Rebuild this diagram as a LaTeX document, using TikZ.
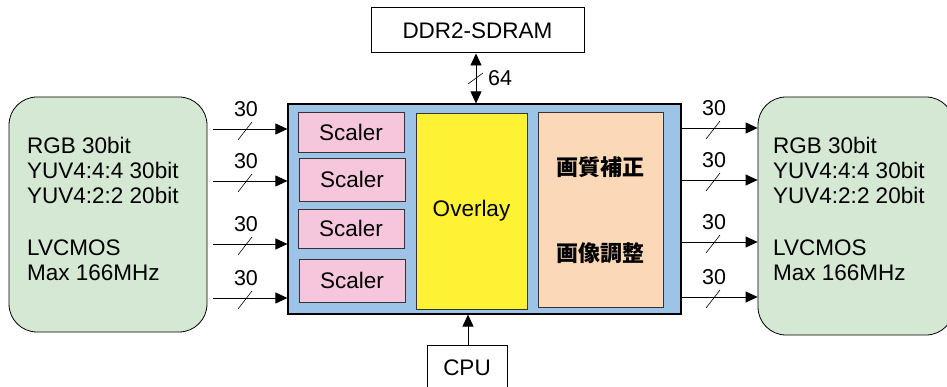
\documentclass[tikz,border=0pt]{standalone}
\usepackage{fontspec}
\setmainfont{Liberation Sans}
\newfontfamily\cjk{Noto Sans CJK JP}
\usetikzlibrary{arrows.meta}
\definecolor{greenfill}{RGB}{213,232,212}
\definecolor{bluefill}{RGB}{157,195,230}
\definecolor{pinkfill}{RGB}{246,198,221}
\definecolor{yellowfill}{RGB}{255,241,51}
\definecolor{peachfill}{RGB}{251,216,183}
\begin{document}
\begin{tikzpicture}[x=1pt,y=-1pt,
  txt/.style={font=\fontsize{22.5}{26}\selectfont, inner sep=0pt, anchor=base west},
  io/.style={draw=black, line width=0.8pt, fill=greenfill, rounded corners=28pt},
  plain/.style={draw=black, line width=1pt, fill=white},
  scalerbox/.style={draw=black!80, line width=0.8pt, fill=pinkfill, font=\fontsize{22.5}{26}\selectfont},
  arr/.style={line width=0.8pt, -{Triangle[length=12pt,width=11pt]}},
  busarr/.style={line width=0.8pt, {Triangle[length=12pt,width=11pt]}-{Triangle[length=12pt,width=11pt]}},
  slash/.style={line width=0.6pt},
  lbl/.style={font=\fontsize{21.5}{24}\selectfont, inner sep=0pt}
]
\useasboundingbox (0,0) rectangle (947,387);

% left and right IO boxes
\node[io, minimum width=198pt, minimum height=235pt] (lin) at (108,214.5) {};
\node[io, minimum width=196pt, minimum height=238pt] (rout) at (856,216) {};
\foreach \x/\s in {27/l,773/r}{
  \node[txt] (\s t1) at (\x,154) {RGB 30bit};
  \node[txt] (\s t2) at (\x,179) {YUV4:4:4 30bit};
  \node[txt] (\s t3) at (\x,204) {YUV4:2:2 20bit};
  \node[txt] (\s t4) at (\x,255) {LVCMOS};
  \node[txt] (\s t5) at (\x,280) {Max 166MHz};
}

% main block
\node[draw=black, line width=1.2pt, fill=bluefill, minimum width=393pt, minimum height=210pt] (main) at (484.5,209) {};
\node[scalerbox, minimum width=106pt, minimum height=40pt] (s1) at (351,132) {Scaler};
\node[scalerbox, minimum width=106pt, minimum height=43pt] (s2) at (352,179.5) {Scaler};
\node[scalerbox, minimum width=106pt, minimum height=39pt] (s3) at (351,228.5) {Scaler};
\node[scalerbox, minimum width=106pt, minimum height=43pt] (s4) at (352,280.5) {Scaler};
\node[draw=black!80, line width=0.8pt, fill=yellowfill, minimum width=111pt, minimum height=196pt, font=\fontsize{22.5}{26}\selectfont] (ov) at (471.5,211) {Overlay};
\node[draw=black!80, line width=0.8pt, fill=peachfill, minimum width=125pt, minimum height=195pt] (pq) at (600.5,209.5) {};
\node[font=\cjk\bfseries\fontsize{22}{26}\selectfont, inner sep=0pt] (pq1) at (600,167) {画質補正};
\node[font=\cjk\bfseries\fontsize{22}{26}\selectfont, inner sep=0pt] (pq2) at (600,253) {画像調整};

% DDR and CPU
\node[plain, minimum width=213pt, minimum height=45pt, font=\fontsize{22.5}{26}\selectfont] (ddr) at (477.5,30.5) {DDR2-SDRAM};
\node[plain, minimum width=80pt, minimum height=50pt] (cpu) at (467,370) {};
\node[font=\fontsize{22.5}{26}\selectfont, inner sep=0pt] (cputxt) at (467,368) {CPU};

\draw[busarr] (ddr.south -| 476,0) -- (main.north -| 476,0);
\draw[slash] (468,84) -- (483,73);
\node[lbl, anchor=west] (bus64) at (488,78) {64};

\draw[arr] (cpu.north -| 468,0) -- (main.south -| 468,0);

% left input arrows
\foreach \y/\n in {129/a,181/b,244/c,298/d}{
  \coordinate (lstart\n) at (lin.east |- 0,\y);
  \coordinate (lend\n) at (main.west |- 0,\y);
  \draw[arr] ([xshift=6pt]lstart\n) -- (lend\n);
  \draw[slash] (238,\y+11) -- (252,\y-7);
  \node[lbl] (ll\n) at (246,\y-20) {30};
}
% right output arrows
\foreach \y/\n in {128/a,180/b,242/c,297/d}{
  \coordinate (rstart\n) at (main.east |- 0,\y);
  \coordinate (rend\n) at (rout.west |- 0,\y);
  \draw[arr] (rstart\n) -- (rend\n);
  \draw[slash] (706,\y+11) -- (720,\y-7);
  \node[lbl] (rl\n) at (714,\y-20) {30};
}
\end{tikzpicture}
\end{document}
